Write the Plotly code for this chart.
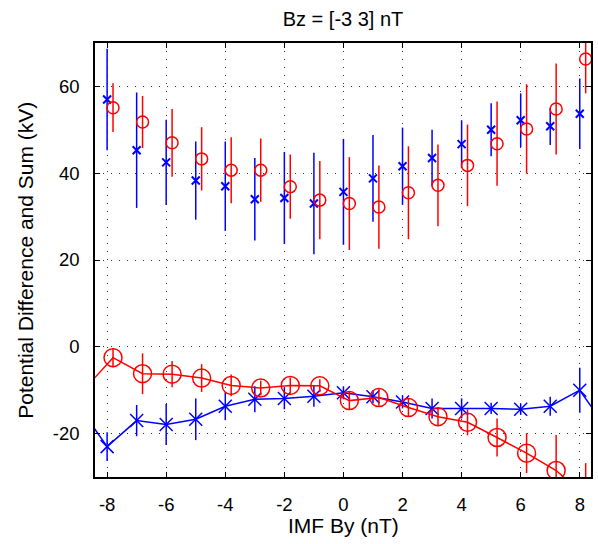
import plotly.graph_objects as go

# Upper group: potential sum (blue) and difference-like series (red), with error bars
by_sum_blue = [-8, -7, -6, -5, -4, -3, -2, -1, 0, 1, 2, 3, 4, 5, 6, 7, 8]
sum_blue = [57.0, 45.3, 42.5, 38.3, 37.0, 34.0, 34.3, 33.0, 35.7, 38.8, 41.6, 43.5, 46.7, 50.0, 52.2, 50.8, 53.7]
sum_blue_err = [11.7, 13.3, 9.8, 9.0, 10.3, 9.5, 10.6, 11.7, 12.2, 10.0, 8.9, 6.5, 5.5, 6.1, 6.2, 4.3, 8.1]

by_sum_red = [-7.8, -6.8, -5.8, -4.8, -3.8, -2.8, -1.8, -0.8, 0.2, 1.2, 2.2, 3.2, 4.2, 5.2, 6.2, 7.2, 8.2]
sum_red = [55.1, 51.8, 47.0, 43.3, 40.7, 40.7, 36.9, 33.8, 33.0, 32.2, 35.5, 37.2, 41.8, 46.8, 50.2, 54.8, 66.3]
sum_red_err = [5.6, 6.0, 7.8, 7.3, 7.6, 7.3, 7.4, 9.0, 10.7, 9.6, 10.7, 9.4, 9.4, 9.7, 10.3, 10.5, 7.9]

# Lower group: potential difference with connecting lines
by_diff_blue = [-9, -8, -7, -6, -5, -4, -3, -2, -1, 0, 1, 2, 3, 4, 5, 6, 7, 8, 9]
diff_blue = [-13.3, -23.0, -17.0, -17.9, -16.7, -13.7, -12.1, -11.9, -11.4, -10.6, -11.5, -12.7, -14.2, -14.2, -14.2, -14.4, -13.7, -10.0, -19.7]
diff_blue_err = [3.0, 3.3, 3.6, 4.7, 4.8, 3.2, 3.0, 2.5, 2.4, 1.5, 1.5, 1.5, 2.3, 2.3, 1.3, 1.3, 2.2, 5.2, 3.0]

by_diff_red = [-8.8, -7.8, -6.8, -5.8, -4.8, -3.8, -2.8, -1.8, -0.8, 0.2, 1.2, 2.2, 3.2, 4.2, 5.2, 6.2, 7.2, 8.2]
diff_red = [-10.0, -2.5, -6.2, -6.3, -7.2, -8.9, -9.5, -8.9, -9.0, -12.4, -11.7, -14.0, -16.1, -17.4, -20.9, -24.5, -28.5, -34.5]
diff_red_err = [2.0, 2.2, 4.7, 3.0, 3.2, 2.5, 1.7, 1.8, 1.5, 2.1, 1.9, 2.1, 2.0, 3.0, 4.4, 4.6, 8.2, 7.7]

x_ticks = [-8, -6, -4, -2, 0, 2, 4, 6, 8]
x_ticktext = ["-8", "-6", "-4", "-2", "0", "2", "4", "6", "8"]
y_ticks = [-20, 0, 20, 40, 60]
y_ticktext = ["-20", "0", "20", "40", "60"]

BLUE = "#0000ff"
RED = "#ff0000"
FONT = "Liberation Sans, Arial, sans-serif"

fig = go.Figure()

fig.add_trace(go.Scatter(
    x=by_sum_blue, y=sum_blue, mode="markers",
    marker=dict(symbol="x-thin-open", size=8, color=BLUE, line=dict(color=BLUE, width=2)),
    error_y=dict(type="data", array=sum_blue_err, color=BLUE, thickness=1.5, width=0),
    showlegend=False))
fig.add_trace(go.Scatter(
    x=by_sum_red, y=sum_red, mode="markers",
    marker=dict(symbol="circle-open", size=12, color=RED, line=dict(color=RED, width=1.5)),
    error_y=dict(type="data", array=sum_red_err, color=RED, thickness=1.5, width=0),
    showlegend=False))
fig.add_trace(go.Scatter(
    x=by_diff_blue, y=diff_blue, mode="lines+markers",
    line=dict(color=BLUE, width=1.5),
    marker=dict(symbol="x-thin-open", size=13, color=BLUE, line=dict(color=BLUE, width=1.5)),
    error_y=dict(type="data", array=diff_blue_err, color=BLUE, thickness=1.5, width=0),
    showlegend=False))
fig.add_trace(go.Scatter(
    x=by_diff_red, y=diff_red, mode="lines+markers",
    line=dict(color=RED, width=1.5),
    marker=dict(symbol="circle-open", size=18, color=RED, line=dict(color=RED, width=1.5)),
    error_y=dict(type="data", array=diff_red_err, color=RED, thickness=1.5, width=0),
    showlegend=False))

axis_common = dict(
    showline=True, linecolor="black", linewidth=1.5, mirror="ticks",
    ticks="inside", ticklen=5, tickwidth=1, tickcolor="black",
    showgrid=True, gridcolor="#333333", gridwidth=1, griddash="1px,7px",
    zeroline=False,
    tickfont=dict(family=FONT, size=18.5, color="black"),
)

fig.update_xaxes(range=[-8.41, 8.38], tickvals=x_ticks, ticktext=x_ticktext,
                 ticklabelstandoff=10, **axis_common)
fig.update_yaxes(range=[-30, 70], tickvals=y_ticks, ticktext=y_ticktext,
                 ticklabelstandoff=10, **axis_common)

fig.update_layout(
    width=598, height=544,
    margin=dict(l=95, r=5, t=43, b=67),
    plot_bgcolor="white", paper_bgcolor="white",
    title=dict(text="Bz = [-3 3] nT", x=0.5, xref="paper", xanchor="center",
               y=1 - 19 / 544, yref="container", yanchor="middle",
               font=dict(family=FONT, size=20, color="black")),
    annotations=[
        dict(text="Potential Difference and Sum (kV)", xref="paper", yref="paper",
             x=(24.5 - 95) / 498, y=0.5, xanchor="center", yanchor="middle",
             textangle=-90, showarrow=False,
             font=dict(family=FONT, size=21, color="black")),
        dict(text="IMF By (nT)", xref="paper", yref="paper",
             x=0.5, y=(476.7 - 525) / 434, xanchor="center", yanchor="middle",
             showarrow=False, font=dict(family=FONT, size=21, color="black")),
    ],
)

fig.write_html("out.html")
